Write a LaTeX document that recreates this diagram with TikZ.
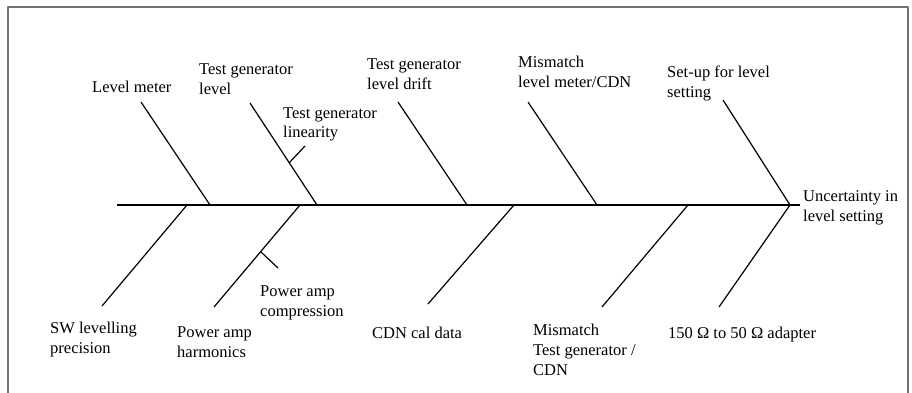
\documentclass[tikz,border=0pt]{standalone}
\usepackage{fontspec}
\setmainfont{Liberation Serif}
\usetikzlibrary{calc}

\begin{document}
\begin{tikzpicture}[x=1pt,y=-1pt,line join=round,
  bone/.style={line width=1.2pt},
  spine/.style={line width=2pt},
  lbl/.style={anchor=base west,inner sep=0pt,align=left,font=\fontsize{16.5}{20}\selectfont}]
  \useasboundingbox (0,0) rectangle (912,393);
  \coordinate (F0) at (8,394);
  \coordinate (F1) at (8,7);
  \coordinate (F2) at (908,7);
  \coordinate (F3) at (908,394);
  \draw[black!55,line width=1.5pt] (F0) -- (F1) -- (F2) -- (F3);
  % spine
  \coordinate (S0) at (117,205);
  \coordinate (HD) at (790,205);
  \coordinate (S1) at (800,205);
  \draw[spine] (S0) -- (S1);
  % upper bones
  \coordinate (U1) at (141,102);
  \coordinate (U1s) at (210,205);
  \coordinate (U2) at (250,103);
  \coordinate (U2s) at (317,205);
  \coordinate (U3) at (398,102);
  \coordinate (U3s) at (467,205);
  \coordinate (U4) at (528,102);
  \coordinate (U4s) at (597,205);
  \coordinate (U5) at (723,100);
  \draw[bone] (U1) -- (U1s);
  \draw[bone] (U2) -- (U2s);
  \draw[bone] (U3) -- (U3s);
  \draw[bone] (U4) -- (U4s);
  \draw[bone] (U5) -- (HD);
  % lower bones
  \coordinate (L1) at (102,306);
  \coordinate (L1s) at (187,205);
  \coordinate (L2) at (214,307);
  \coordinate (L2s) at (300,205);
  \coordinate (L3) at (428,304);
  \coordinate (L3s) at (514,205);
  \coordinate (L4) at (602,307);
  \coordinate (L4s) at (688,205);
  \coordinate (L5) at (719,307);
  \draw[bone] (L1) -- (L1s);
  \draw[bone] (L2) -- (L2s);
  \draw[bone] (L3) -- (L3s);
  \draw[bone] (L4) -- (L4s);
  \draw[bone] (L5) -- (HD);
  % small bones
  \coordinate (T1) at (289,163);
  \coordinate (T1e) at (305,146);
  \coordinate (T2) at (261,252);
  \coordinate (T2e) at (278,268);
  \draw[bone] (T1) -- (T1e);
  \draw[bone] (T2) -- (T2e);
  % labels (base = last line)
  \node[lbl] (lvm) at (92,93) {Level meter};
  \node[lbl] (tgl) at (199,95) {Test generator\\level};
  \node[lbl] (tglin) at (283,138) {Test generator\\linearity};
  \node[lbl] (tgd) at (367,90) {Test generator\\level drift};
  \node[lbl] (mlm) at (518,88) {Mismatch\\level meter/CDN};
  \node[lbl] (set) at (667,98) {Set-up for level\\setting};
  \node[lbl] (unc) at (803,221) {Uncertainty in\\level setting};
  \node[lbl] (swl) at (50,353) {SW levelling\\precision};
  \node[lbl] (pah) at (177,357) {Power amp\\harmonics};
  \node[lbl] (pac) at (260,316) {Power amp\\compression};
  \node[lbl] (cdn) at (372,338) {CDN cal data};
  \node[lbl] (mtg) at (533,375) {Mismatch\\Test generator /\\CDN};
  \node[lbl] (adp) at (668,338) {150 Ω to 50 Ω adapter};
\end{tikzpicture}
\end{document}
